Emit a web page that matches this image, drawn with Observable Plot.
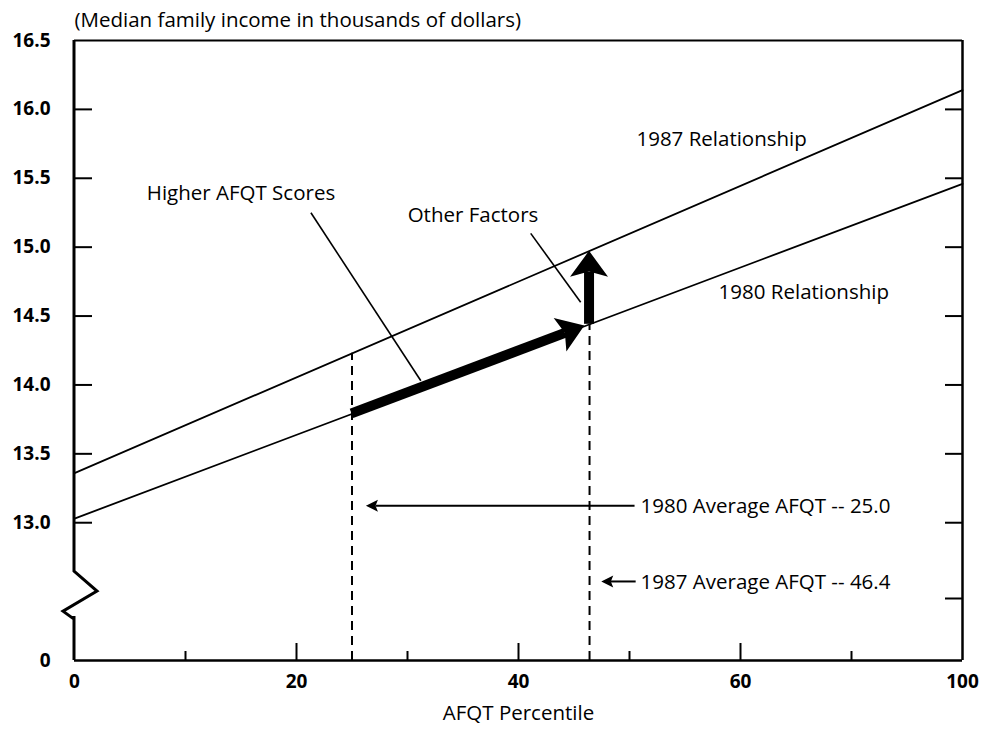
<!DOCTYPE html>
<html><head><meta charset="utf-8">
<script src="https://cdn.jsdelivr.net/npm/d3@7"></script>
<script src="https://cdn.jsdelivr.net/npm/@observablehq/plot@0.6"></script>
<style>body{margin:0;background:#fff}</style>
</head><body><div id="chart"></div>
<script>
// ---- Axis tick definitions (as printed on the chart; right end labelled "100")
const xTickValues = [0, 20, 40, 60, 80];
const xTickLabels = ["0", "20", "40", "60", "100"];
const xMinorTicks = [10, 30, 50, 70];
const yTickValues = [12, 13, 13.5, 14, 14.5, 15, 15.5, 16, 16.5];
const yTickLabels = ["0", "13.0", "13.5", "14.0", "14.5", "15.0", "15.5", "16.0", "16.5"];
const leftTicks = [13, 13.5, 14, 14.5, 15, 15.5, 16];
const rightTicks = [12.45, 13, 13.5, 14, 14.5, 15, 15.5, 16];
const yBreak = 12.5;

// ---- Relationship lines (AFQT percentile -> median family income, $000)
const afqt = [0, 80];
const income1987 = [13.36, 16.14];
const income1980 = [13.03, 15.46];

// ---- Average AFQT scores and incomes read at those scores
const avgAFQT = [25.0, 46.4];
const at1980Line = [13.79, 14.44];
const at1987Line = [14.23, 14.97];

// ---- Annotation texts
const labelTexts = ["Higher AFQT Scores", "Other Factors", "1987 Relationship", "1980 Relationship",
  "1980 Average AFQT -- 25.0", "1987 Average AFQT -- 46.4"];
const labelX = [15.0, 35.9, 58.3, 65.7, 51.0, 51.0];
const labelY = [15.39, 15.23, 15.78, 14.67, 13.12, 12.57];
const labelAnchor = ["middle", "middle", "middle", "middle", "start", "start"];
const leaderFrom = [[21.3, 15.25], [41.1, 15.10]];
const leaderTo = [[31.2, 14.03], [45.6, 14.60]];
const avgArrowFrom = [[50.5, 13.12], [50.6, 12.57]];
const avgArrowTo = [[26.3, 13.12], [47.5, 12.57]];

const yLabel = "(Median family income in thousands of dollars)";
const xLabel = "AFQT Percentile";

// ---- build tables
const lines = afqt.flatMap((x, i) => [
  {x, y: income1987[i], s: "1987"},
  {x, y: income1980[i], s: "1980"}
]);
const dashes = avgAFQT.map((x, i) => ({x, top: i === 0 ? at1987Line[0] : at1980Line[1]}));
const labels = labelTexts.map((t, i) => ({t, x: labelX[i], y: labelY[i], a: labelAnchor[i]}));
const leaders = leaderFrom.map((f, i) => ({x1: f[0], y1: f[1], x2: leaderTo[i][0], y2: leaderTo[i][1]}));

const thickStyle = {w: 10, headL: 26, headW: 36, gap: 5};
const thinStyle = {w: 2, headL: 12, headW: 12, gap: 0};
const arrows = [
  {x1: avgAFQT[0], y1: at1980Line[0], x2: avgAFQT[1], y2: at1980Line[1], st: thickStyle},
  {x1: avgAFQT[1], y1: at1980Line[1], x2: avgAFQT[1], y2: at1987Line[1], st: {...thickStyle, headW: 38, gap: 0}},
  ...avgArrowFrom.map((f, i) => ({x1: f[0], y1: f[1], x2: avgArrowTo[i][0], y2: avgArrowTo[i][1], st: thinStyle}))
];

function arrowMark(list) {
  return (index, scales) => {
    const g = d3.create("svg:g");
    for (const a of list) {
      const s = a.st;
      const x1 = scales.x(a.x1), y1 = scales.y(a.y1);
      let x2 = scales.x(a.x2), y2 = scales.y(a.y2);
      const L = Math.hypot(x2 - x1, y2 - y1), ux = (x2 - x1) / L, uy = (y2 - y1) / L, px = -uy, py = ux;
      x2 -= ux * s.gap; y2 -= uy * s.gap;
      const bx = x2 - ux * s.headL, by = y2 - uy * s.headL;
      const nx = x2 - ux * s.headL * 0.8, ny = y2 - uy * s.headL * 0.8;
      g.append("line").attr("x1", x1).attr("y1", y1).attr("x2", nx).attr("y2", ny)
        .attr("stroke", "black").attr("stroke-width", s.w);
      g.append("path").attr("fill", "black")
        .attr("d", `M${x2},${y2}L${bx + px * s.headW / 2},${by + py * s.headW / 2}L${nx},${ny}L${bx - px * s.headW / 2},${by - py * s.headW / 2}Z`);
    }
    return g.node();
  };
}

function leftAxisMark() {
  return (index, scales) => {
    const g = d3.create("svg:g");
    const x0 = scales.x(0), yt = scales.y(16.5), yb = scales.y(12), yc = scales.y(yBreak);
    g.append("path").attr("fill", "none").attr("stroke", "black").attr("stroke-width", 3)
      .attr("stroke-linejoin", "miter")
      .attr("d", `M${x0},${yt}L${x0},${yc - 20}L${x0 + 23},${yc}L${x0 - 11},${yc + 20}L${x0},${yc + 28}M${x0},${yc + 25}L${x0},${yb}`);
    return g.node();
  };
}

const FS = 20.5;
const chart = Plot.plot({
  width: 982,
  height: 730,
  marginLeft: 74,
  marginRight: 20,
  marginTop: 40,
  marginBottom: 70,
  style: {fontFamily: "'Open Sans', sans-serif", fontSize: "20px", color: "black", background: "white"},
  x: {domain: [0, 80]},
  y: {domain: [12, 16.5]},
  marks: [
    // frame
    Plot.ruleY([16.5], {x1: 0, x2: 80, strokeWidth: 2}),
    Plot.ruleY([12], {x1: 0, x2: 80, strokeWidth: 2.5}),
    Plot.ruleX([80], {y1: 12, y2: 16.5, strokeWidth: 2.5}),
    leftAxisMark(),
    // ticks
    Plot.axisY(leftTicks, {anchor: "left", tickSize: -18, strokeWidth: 2, fill: "none", label: null}),
    Plot.axisY(rightTicks, {anchor: "right", tickSize: -18, strokeWidth: 2, fill: "none", label: null}),
    Plot.axisX([20, 40, 60], {anchor: "bottom", tickSize: -17, strokeWidth: 2, fill: "none", label: null}),
    Plot.axisX(xMinorTicks, {anchor: "bottom", tickSize: -9, strokeWidth: 2, fill: "none", label: null}),
    // tick labels
    Plot.axisY(yTickValues, {anchor: "left", tickSize: 0, tickPadding: 24, fontWeight: "bold", fontSize: 19,
      tickFormat: (d) => yTickLabels[yTickValues.indexOf(d)], label: null}),
    Plot.axisX(xTickValues, {anchor: "bottom", tickSize: 0, tickPadding: 14, fontWeight: "bold", fontSize: 19,
      tickFormat: (d) => xTickLabels[xTickValues.indexOf(d)], label: null}),
    // axis titles
    Plot.text([yLabel], {x: 0, y: 16.5, dy: -20, textAnchor: "start", fontSize: FS}),
    Plot.text([xLabel], {frameAnchor: "bottom", dy: 59, fontSize: FS}),
    // relationship lines
    Plot.line(lines, {x: "x", y: "y", z: "s", stroke: "black", strokeWidth: 1.8}),
    // average AFQT dashed rules
    Plot.ruleX(dashes, {x: "x", y1: 12, y2: "top", stroke: "black", strokeWidth: 2, strokeDasharray: "9,6"}),
    // leaders
    Plot.link(leaders, {x1: "x1", y1: "y1", x2: "x2", y2: "y2", stroke: "black", strokeWidth: 1.6}),
    // arrows
    arrowMark(arrows),
    // labels
    Plot.text(labels.filter((d) => d.a === "middle"), {x: "x", y: "y", text: "t", textAnchor: "middle", fontSize: FS, fill: "black"}),
    Plot.text(labels.filter((d) => d.a === "start"), {x: "x", y: "y", text: "t", textAnchor: "start", fontSize: FS, fill: "black"})
  ]
});
document.getElementById("chart").appendChild(chart);
</script>
</body></html>
